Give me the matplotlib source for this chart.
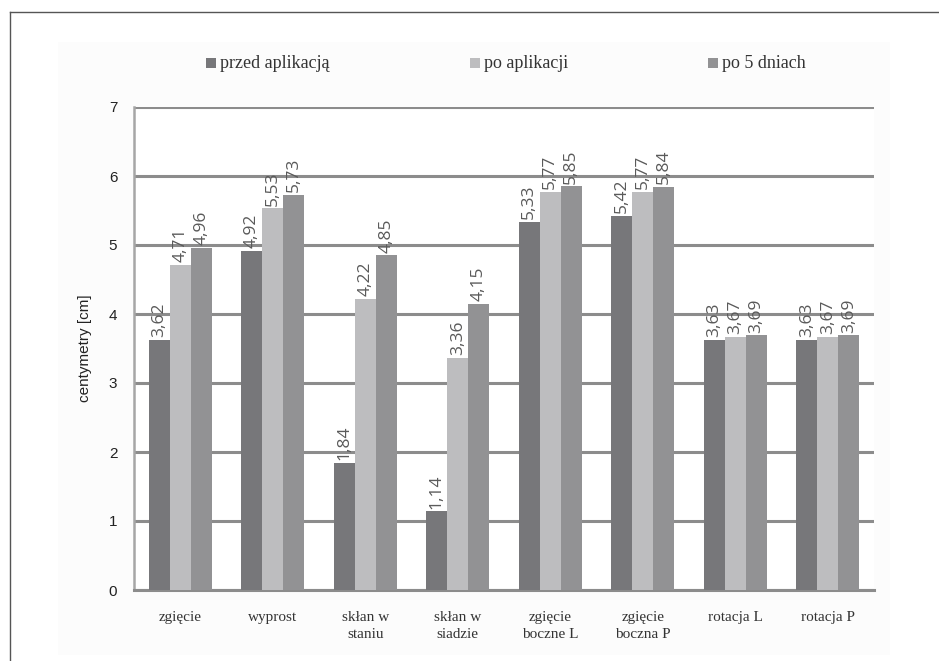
import numpy as np
import matplotlib.pyplot as plt
from matplotlib.lines import Line2D
from matplotlib.patches import Rectangle

categories = ['zgięcie', 'wyprost', 'skłan w\nstaniu', 'skłan w\nsiadzie',
              'zgięcie\nboczne L', 'zgięcie\nboczna P', 'rotacja L', 'rotacja P']
series = ['przed aplikacją', 'po aplikacji', 'po 5 dniach']
przed = [3.62, 4.92, 1.84, 1.14, 5.33, 5.42, 3.63, 3.63]
po = [4.71, 5.53, 4.22, 3.36, 5.77, 5.77, 3.67, 3.67]
po5 = [4.96, 5.73, 4.85, 4.15, 5.85, 5.84, 3.69, 3.69]
yticks = [0, 1, 2, 3, 4, 5, 6, 7]

colors = ['#77777a', '#bdbdbf', '#929294']
serif = 'Liberation Serif'
sans = 'Liberation Sans'

fig = plt.figure(figsize=(9.39, 6.61), dpi=100)
fig.patch.set_facecolor('white')

# outer frame (left and top edges) and the faint chart area
fig.add_artist(Line2D([9.5 / 939, 9.5 / 939], [0, 1 - 12 / 661], color='#555555', lw=1.0))
fig.add_artist(Line2D([9.5 / 939, 1], [1 - 12 / 661, 1 - 12 / 661], color='#555555', lw=1.0))
fig.add_artist(Rectangle((58 / 939, 1 - 655 / 661), (890 - 58) / 939, (655 - 42) / 661,
                         transform=fig.transFigure, fc='#fcfcfc', ec='none', zorder=0))

ax = fig.add_axes([134 / 939, 1 - 590 / 661, (874 - 134) / 939, (590 - 107) / 661])
ax.set_facecolor('white')

x = np.arange(len(categories))
w = 0.227
for i, (vals, name) in enumerate(zip([przed, po, po5], series)):
    xs = x + (i - 1) * w
    ax.bar(xs, vals, width=w, color=colors[i], label=name, zorder=3)
    for xi, v in zip(xs, vals):
        ax.annotate(f'{v:.2f}'.replace('.', ','), (xi, v), xytext=(0, 2),
                    textcoords='offset points', rotation=90, ha='center', va='bottom',
                    fontsize=12.5, color='#5a5a5a', family='Open Sans', zorder=4)

ax.set_xlim(-0.5, len(categories) - 0.5)
ax.set_ylim(0, 7)
ax.set_yticks(yticks)
ax.set_yticklabels([str(t) for t in yticks], fontsize=11, family=sans, color='#222222')
ax.yaxis.grid(True, color='#8c8c8c', lw=2.2, zorder=1)
ax.set_axisbelow(True)
ax.tick_params(axis='y', length=0, pad=12)
ax.tick_params(axis='x', length=0, pad=15)
ax.set_xticks(x)
ax.set_xticklabels(categories, fontsize=11, family=serif, color='#333333', linespacing=1.45)

for s in ['top', 'right']:
    ax.spines[s].set_visible(False)
ax.spines['left'].set_color('#a6a6a6')
ax.spines['left'].set_linewidth(1.8)
ax.spines['bottom'].set_color('#8c8c8c')
ax.spines['bottom'].set_linewidth(2.2)

ax.set_ylabel('centymetry [cm]', fontsize=11, family=sans, color='#222222', labelpad=12)

# legend laid out across the top
legend_x = [211, 475, 713]
for name, c, lx in zip(series, colors, legend_x):
    fig.add_artist(Rectangle((lx / 939 - 5 / 939, 1 - 68 / 661), 10 / 939, 10 / 661,
                             transform=fig.transFigure, fc=c, ec='none'))
    fig.text(lx / 939 + 9 / 939, 1 - 63 / 661, name, fontsize=13, family=serif,
             color='#333333', va='center', ha='left')

fig.savefig('out.png', dpi=100)
